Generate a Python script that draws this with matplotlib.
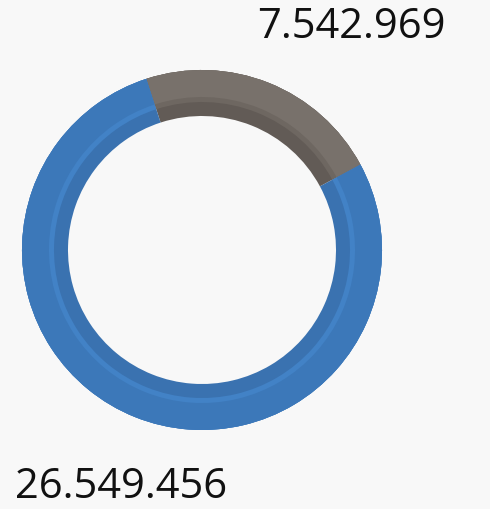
import matplotlib
matplotlib.use("Agg")
import matplotlib.pyplot as plt

# ─── Data ────────────────────────────────────────────────────────────────────
values = [7542969, 26549456]
labels = ["7.542.969", "26.549.456"]

# shades per slice: inner face, highlight ridge, outer bevel
inner_colors = ["#625B56", "#3A72B0"]
ridge_colors = ["#6E6761", "#4282C6"]
outer_colors = ["#78716B", "#3C78B9"]

BG = "#F8F8F8"

fig = plt.figure(figsize=(4.9, 5.09), dpi=100)
fig.patch.set_facecolor(BG)
ax = fig.add_axes([0, 0, 1, 1])
ax.set_facecolor(BG)

cx, cy = 202, 509 - 250
# drawn back to front, each layer overlapping the one below to avoid seams
rings = [
    (180, 46, inner_colors),
    (180, 32, ridge_colors),
    (180, 27, outer_colors),
]
for r, w, cols in rings:
    ax.pie(values, colors=cols, radius=r, center=(cx, cy),
           startangle=108, counterclock=False, frame=True,
           wedgeprops=dict(width=w, edgecolor="none", linewidth=0))

ax.set_xlim(0, 490)
ax.set_ylim(0, 509)
ax.set_aspect("equal")
ax.axis("off")

font = dict(fontsize=30, color="#111111", family="Open Sans")
ax.text(257, 509 - 38, labels[0], ha="left", va="baseline", **font)
ax.text(15, 509 - 498, labels[1], ha="left", va="baseline", **font)

fig.savefig("out.png", dpi=100, facecolor=fig.get_facecolor())
